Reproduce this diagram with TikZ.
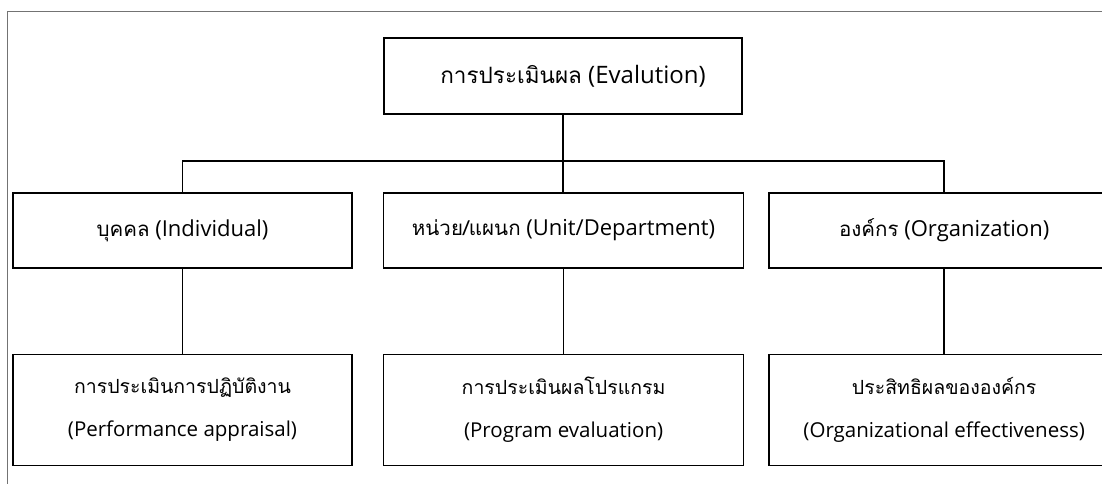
\documentclass[tikz,border=0pt]{standalone}
\usepackage{fontspec}
\setmainfont{Open Sans}
\newfontfamily\thai[Script=Thai]{Loma}
\usetikzlibrary{positioning}
\newcommand{\thhead}[1]{{\thai\fontsize{22.5}{38}\selectfont #1}}
\newcommand{\thtop}[1]{{\thai\fontsize{20.5}{38}\selectfont #1}}
\newcommand{\thlow}[1]{{\thai\fontsize{19.5}{43}\selectfont #1}}

\begin{document}
\begin{tikzpicture}[x=1pt, y=-1pt]
\tikzset{head/.style={rectangle, draw, line width=1.6pt, align=center, minimum width=358pt, minimum height=76pt, inner sep=0pt, font=\fontsize{24}{38}\selectfont},
		level/.style={rectangle, draw, line width=1.6pt, align=center, minimum height=75pt, inner sep=0pt, font=\fontsize{22}{38}\selectfont},
		detail/.style={rectangle, draw, line width=1.6pt, align=center, minimum height=111pt, inner sep=0pt, font=\fontsize{20.5}{43}\selectfont},
		link/.style={line width=1.6pt},
		frame/.style={draw=black!55, line width=1pt}}
\useasboundingbox (0,0) rectangle (1102,484);
\draw[frame] (7,500) |- (1120,12);
\node[head] (Ev) at (563,76) {\hspace*{20pt}\thhead{การประเมินผล} (Evalution)};
\node[level, minimum width=339pt] (Ind) at (182.5,230.5) {\thtop{บุคคล} (Individual)};
\node[level, minimum width=360pt, right=30pt of Ind] (Dep) {\thtop{หน่วย/แผนก} (Unit/Department)};
\node[level, minimum width=350pt, right=24pt of Dep] (Org) {\thtop{องค์กร} (Organization)};
\node[detail, minimum width=339pt, below=85pt of Ind] (PA) {\thlow{การประเมินการปฏิบัติงาน}\\(Performance appraisal)};
\node[detail, minimum width=360pt, below=85pt of Dep] (PE) {\thlow{การประเมินผลโปรแกรม}\\(Program evaluation)};
\node[detail, minimum width=350pt, below=85pt of Org] (OE) {\thlow{ประสิทธิผลขององค์กร}\\(Organizational effectiveness)};
\coordinate (bar) at (0,161);
\draw[link] (Ev.south) -- (Ev.south |- Dep.north);
\draw[link] (Ind.north) |- (Org.north |- bar) -- (Org.north);
\draw[link] (Ind) -- (PA);
\draw[link] (Dep) -- (PE);
\draw[link] (Org) -- (OE);
\end{tikzpicture}
\end{document}
